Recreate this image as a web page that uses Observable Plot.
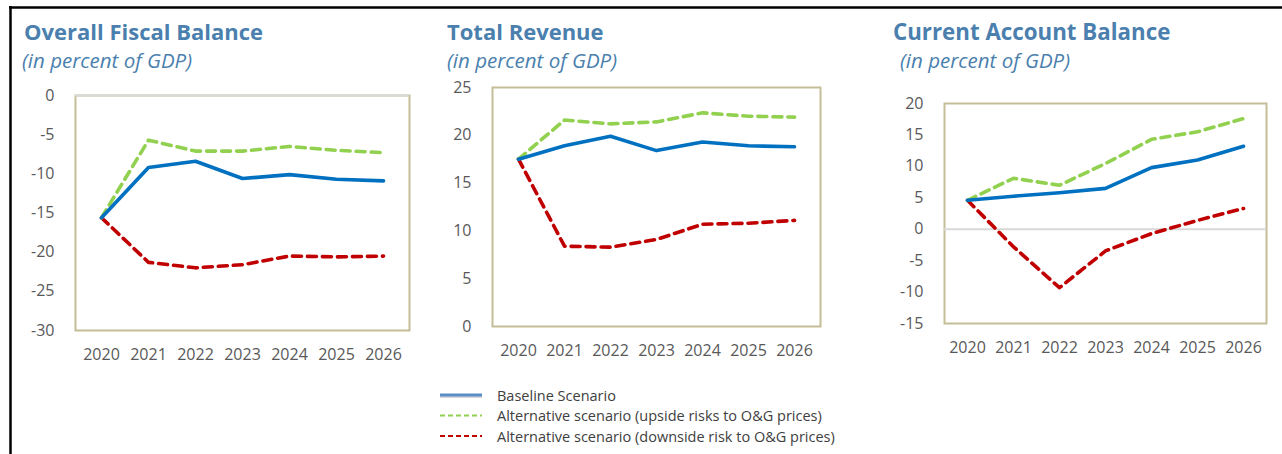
<!DOCTYPE html>
<html>
<head>
<meta charset="utf-8">
<script src="https://cdn.jsdelivr.net/npm/d3@7"></script>
<script src="https://cdn.jsdelivr.net/npm/@observablehq/plot@0.6"></script>
<style>
  html, body { margin: 0; padding: 0; background: #fff; }
  #root { position: relative; width: 1282px; height: 454px; overflow: hidden; font-family: "Open Sans", sans-serif; }
  .panel { position: absolute; }
  #overlay { position: absolute; left: 0; top: 0; }
</style>
</head>
<body>
<div id="root">
  <svg id="overlay" width="1282" height="454"></svg>
</div>
<script>
// ---- data ----
const years = [2020, 2021, 2022, 2023, 2024, 2025, 2026];
const seriesNames = [
  "Baseline Scenario",
  "Alternative scenario (upside risks to O&G prices)",
  "Alternative scenario (downside risk to O&G prices)"
];
const titles = ["Overall Fiscal Balance", "Total Revenue", "Current Account Balance"];
const subtitle = "(in percent of GDP)";

const fiscalBaseline = [-15.6, -9.2, -8.4, -10.6, -10.1, -10.7, -10.9];
const fiscalUpside   = [-15.6, -5.7, -7.1, -7.1, -6.5, -7.0, -7.3];
const fiscalDownside = [-15.6, -21.3, -22.0, -21.6, -20.5, -20.6, -20.5];
const fiscalTicks = [0, -5, -10, -15, -20, -25, -30];

const revenueBaseline = [17.5, 18.9, 19.9, 18.4, 19.3, 18.9, 18.8];
const revenueUpside   = [17.5, 21.6, 21.2, 21.4, 22.35, 22.0, 21.9];
const revenueDownside = [17.5, 8.4, 8.3, 9.1, 10.7, 10.8, 11.1];
const revenueTicks = [0, 5, 10, 15, 20, 25];

const caBaseline = [4.6, 5.25, 5.8, 6.5, 9.8, 11.0, 13.2];
const caUpside   = [4.6, 8.1, 7.0, 10.45, 14.3, 15.5, 17.6];
const caDownside = [4.6, -2.8, -9.3, -3.45, -0.7, 1.4, 3.3];
const caTicks = [20, 15, 10, 5, 0, -5, -10, -15];

// ---- styles ----
const colors = ["#0070c0", "#92d050", "#c00000"];
const dashes = [null, "9,6", "9,6"];
const titleColor = "#4a7fae";
const frameColor = "#c4bd97";
const tickColor = "#595959";

function longData(b, u, d) {
  const rows = [];
  [b, u, d].forEach((vals, s) => vals.forEach((v, i) => rows.push({year: years[i], value: v, series: s})));
  return rows;
}

const panels = [
  {data: longData(fiscalBaseline, fiscalUpside, fiscalDownside), domain: [-30, 0], ticks: fiscalTicks,
   left: 0, top: 80, width: 430, height: 290, mL: 75, mR: 21, mT: 15, mB: 40, zero: true,
   tx: 24, sx: 22, tfs: 22},
  {data: longData(revenueBaseline, revenueUpside, revenueDownside), domain: [0, 25], ticks: revenueTicks,
   left: 430, top: 70, width: 430, height: 300, mL: 62, mR: 40, mT: 17, mB: 44, zero: false,
   tx: 447, sx: 447, tfs: 22},
  {data: longData(caBaseline, caUpside, caDownside), domain: [-15, 20], ticks: caTicks,
   left: 860, top: 80, width: 422, height: 290, mL: 84, mR: 16, mT: 23, mB: 47, zero: true,
   tx: 893, sx: 900, tfs: 22.3}
];

const root = document.getElementById("root");

panels.forEach((p) => {
  const marks = [
    Plot.frame({stroke: frameColor, strokeWidth: 2})
  ];
  if (p.zero) marks.push(Plot.ruleY([0], {stroke: "#d9d9d9", strokeWidth: 2}));
  [2, 1, 0].forEach((s) => {
    marks.push(Plot.line(p.data.filter(d => d.series === s), {
      x: "year", y: "value", stroke: colors[s], strokeWidth: 3.6,
      strokeDasharray: dashes[s] || undefined, strokeLinejoin: "round"
    }));
  });
  marks.push(Plot.axisX({tickSize: 0, tickPadding: 18.5, tickFormat: d => String(d), fontSize: 16, fill: tickColor, label: null}));
  marks.push(Plot.axisY({ticks: p.ticks, tickSize: 0, tickPadding: 21, fontSize: 16, fill: tickColor,
                         tickFormat: d => String(d), label: null}));
  const chart = Plot.plot({
    width: p.width, height: p.height,
    marginLeft: p.mL, marginRight: p.mR, marginTop: p.mT, marginBottom: p.mB,
    x: {type: "point", domain: years, padding: 0.5, axis: null},
    y: {domain: p.domain, axis: null},
    style: {fontFamily: "'Open Sans', sans-serif", fontSize: "16px", color: tickColor, background: "transparent", overflow: "visible"},
    marks
  });
  const wrap = document.createElement("div");
  wrap.className = "panel";
  wrap.style.left = p.left + "px";
  wrap.style.top = p.top + "px";
  wrap.appendChild(chart);
  root.appendChild(wrap);
});

// overlay: border, titles, legend
const ov = d3.select("#overlay");
document.getElementById("overlay").style.zIndex = 2;
ov.append("line").attr("x1", 9).attr("x2", 1282).attr("y1", 7.5).attr("y2", 7.5).attr("stroke", "#000").attr("stroke-width", 2.5);
ov.append("line").attr("x1", 10.5).attr("x2", 10.5).attr("y1", 6).attr("y2", 454).attr("stroke", "#000").attr("stroke-width", 2.5);

panels.forEach((p, i) => {
  ov.append("text").attr("x", p.tx).attr("y", 40).text(titles[i])
    .attr("font-family", "'Open Sans', sans-serif").attr("font-weight", 700).attr("font-size", p.tfs)
    .attr("fill", titleColor);
  ov.append("text").attr("x", p.sx).attr("y", 68).text(subtitle)
    .attr("font-family", "'Open Sans', sans-serif").attr("font-style", "italic").attr("font-size", 20.5)
    .attr("fill", titleColor);
});

const legendY = [395, 415.5, 436];
seriesNames.forEach((name, i) => {
  const y = legendY[i];
  if (i === 0) {
    ov.append("line").attr("x1", 440).attr("x2", 482).attr("y1", y + 1.5).attr("y2", y + 1.5)
      .attr("stroke", "#bbbbbb").attr("stroke-width", 3).attr("opacity", 0.6);
    ov.append("line").attr("x1", 440).attr("x2", 482).attr("y1", y).attr("y2", y)
      .attr("stroke", "#5b8cc8").attr("stroke-width", 3.2);
  } else {
    ov.append("line").attr("x1", 440).attr("x2", 482).attr("y1", y).attr("y2", y)
      .attr("stroke", colors[i]).attr("stroke-width", 2.2).attr("stroke-dasharray", "5,3");
  }
  ov.append("text").attr("x", 497).attr("y", y + 5.5).text(name)
    .attr("font-family", "'Open Sans', sans-serif").attr("font-size", 14.5).attr("fill", "#404040");
});
</script>
</body>
</html>
